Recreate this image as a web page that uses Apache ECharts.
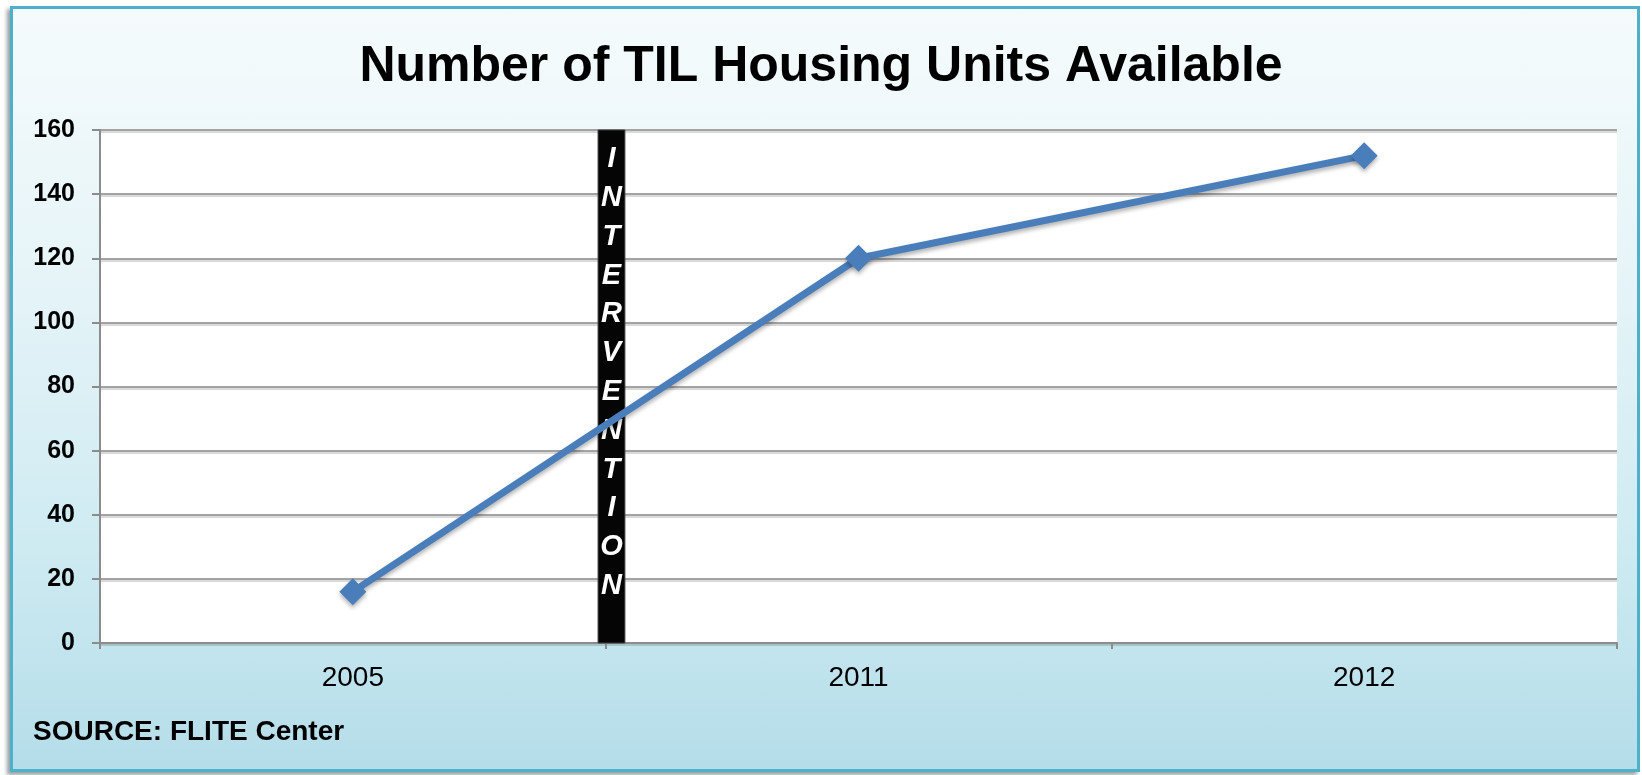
<!DOCTYPE html>
<html>
<head>
<meta charset="utf-8">
<script src="https://cdn.jsdelivr.net/npm/echarts@6/dist/echarts.min.js"></script>
<style>
  html, body { margin: 0; padding: 0; background: #ffffff; }
  #wrap { position: relative; width: 1642px; height: 775px; overflow: hidden; }
  #panel {
    position: absolute; left: 10px; top: 6px; width: 1624px; height: 760px;
    border: 3px solid #4fb0c9;
    background: linear-gradient(to bottom, #f5fbfc 0%, #e6f4f8 35%, #cfebf2 70%, #b4dde9 100%);
    box-shadow: -3px 3px 4px rgba(60, 80, 90, 0.55);
  }
  #main { position: absolute; left: 0; top: 0; width: 1642px; height: 775px; }
</style>
</head>
<body>
<div id="wrap">
  <div id="panel"></div>
  <div id="main"></div>
</div>
<script>
// data
var years = ['2005', '2011', '2012'];
var units = [16, 120, 152];
var yTicks = { min: 0, max: 160, step: 20 };
var interventionLetters = ['I', 'N', 'T', 'E', 'R', 'V', 'E', 'N', 'T', 'I', 'O', 'N'];
// intervention bar sits just after the first category boundary
var interventionFrom = 0.985;
var interventionTo = 1.038;

var font = '"Liberation Sans", Arial, sans-serif';
var chart = echarts.init(document.getElementById('main'));

chart.setOption({
  backgroundColor: 'transparent',
  animation: false,
  title: {
    text: 'Number of TIL Housing Units Available',
    left: 'center',
    top: 37,
    textStyle: { fontFamily: font, fontSize: 50, fontWeight: 'bold', color: '#000' }
  },
  graphic: [{
    type: 'text',
    left: 33,
    top: 718,
    style: { text: 'SOURCE: FLITE Center', font: 'bold 28px ' + font, fill: '#000' }
  }],
  grid: { left: 100, right: 25, top: 130, bottom: 132, backgroundColor: '#fff', show: true, borderWidth: 0 },
  xAxis: [{
    type: 'category',
    data: years,
    boundaryGap: true,
    axisLine: { lineStyle: { color: '#8c8c8c', width: 2 } },
    axisTick: { show: true, length: 6, lineStyle: { color: '#8c8c8c', width: 2 } },
    axisLabel: { margin: 21, fontFamily: font, fontSize: 28, color: '#000' }
  }, {
    type: 'value',
    min: 0,
    max: years.length,
    show: false
  }],
  yAxis: {
    type: 'value',
    min: yTicks.min,
    max: yTicks.max,
    interval: yTicks.step,
    axisLine: { show: true, lineStyle: { color: '#8c8c8c', width: 2 } },
    axisTick: { show: true, length: 8, lineStyle: { color: '#8c8c8c', width: 2 } },
    axisLabel: { margin: 25, fontFamily: font, fontSize: 25, fontWeight: 'bold', color: '#000' },
    splitLine: { lineStyle: { color: '#a3a3a3', width: 2, shadowColor: 'rgba(0,0,0,0.15)', shadowOffsetY: 2 } }
  },
  series: [{
    type: 'line',
    data: units,
    symbol: 'diamond',
    symbolSize: 27,
    z: 3,
    lineStyle: { color: '#4a7ebb', width: 7, shadowColor: 'rgba(0,0,0,0.3)', shadowBlur: 4, shadowOffsetY: 3 },
    itemStyle: { color: '#4a7ebb', shadowColor: 'rgba(0,0,0,0.3)', shadowBlur: 4, shadowOffsetY: 3 }
  }, {
    type: 'line',
    xAxisIndex: 1,
    data: [],
    silent: true,
    z: 4,
    markArea: {
      silent: true,
      itemStyle: { color: '#050505', borderColor: '#3a3a3a', borderWidth: 1, opacity: 1 },
      label: {
        show: true,
        position: 'inside',
        offset: [0, -14],
        formatter: interventionLetters.join('\n'),
        color: '#fff',
        fontFamily: font,
        fontSize: 29,
        fontWeight: 'bold',
        fontStyle: 'italic',
        lineHeight: 38.8
      },
      data: [[
        { xAxis: interventionFrom, yAxis: yTicks.max },
        { xAxis: interventionTo, yAxis: yTicks.min }
      ]]
    }
  }]
});
</script>
</body>
</html>
